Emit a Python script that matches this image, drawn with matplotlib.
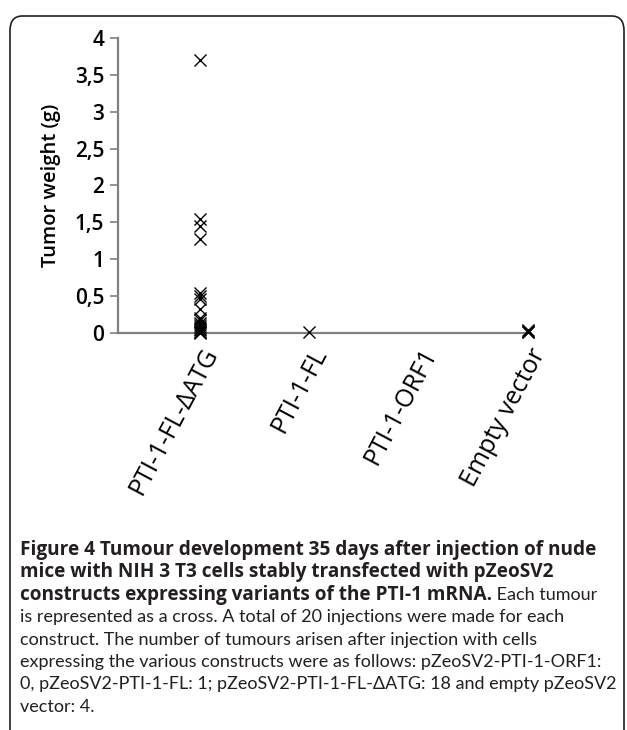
import numpy as np
import matplotlib.pyplot as plt
import matplotlib.transforms as mtransforms
from matplotlib.patches import FancyBboxPatch

# data (tumour weight in g, one value per tumour)
categories = ['PTI-1-FL-\u0394ATG', 'PTI-1-FL', 'PTI-1-ORF1', 'Empty vector']
w_datg = [3.7, 1.55, 1.45, 1.28, 0.54, 0.5, 0.46, 0.33, 0.2, 0.17,
          0.14, 0.11, 0.08, 0.06, 0.04, 0.02, 0.01, 0.0]
w_fl = [0.01]
w_orf1 = []
w_empty = [0.04, 0.03, 0.02, 0.01]
weights = [w_datg, w_fl, w_orf1, w_empty]
yticks = [0, 0.5, 1, 1.5, 2, 2.5, 3, 3.5, 4]
ytick_labels = ['0', '0,5', '1', '1,5', '2', '2,5', '3', '3,5', '4']

W, H = 627, 730
fig = plt.figure(figsize=(W / 100, H / 100), dpi=100)

# rounded frame around figure + caption (bottom runs off the image)
frame = FancyBboxPatch((10 / W, -20 / H), 614 / W, 734 / H,
                       boxstyle='round,pad=0,rounding_size=0.02',
                       transform=fig.transFigure, fill=False,
                       edgecolor='#231f20', linewidth=1.2)
fig.patches.append(frame)

ax = fig.add_axes([118 / W, 1 - 333 / H, (530 - 118) / W, (333 - 38) / H])
for i, vals in enumerate(weights):
    if len(vals) == 0:
        continue
    ax.scatter(np.full(len(vals), i + 1), vals, marker='x', s=75,
               color='black', linewidths=1.0, zorder=3, clip_on=False)

ax.set_xlim(0.25, 4.02)
ax.set_ylim(0, 4)
ax.set_yticks(yticks)
ax.set_yticklabels(ytick_labels)
ax.set_xticks(range(1, 5))
ax.set_xticklabels(categories, rotation=62, ha='right', va='center',
                   rotation_mode='anchor')
ax.tick_params(axis='y', direction='out', length=6, width=1.2,
               color='#808080', labelsize=15, pad=4)
ax.tick_params(axis='x', length=0, labelsize=18, pad=12)
shift = mtransforms.ScaledTranslation(12 / 100, 0, fig.dpi_scale_trans)
for lab in ax.get_xticklabels():
    lab.set_transform(lab.get_transform() + shift)
    lab.set_family('Open Sans')
    lab.set_color('black')
for lab in ax.get_yticklabels():
    lab.set_family('Open Sans')
    lab.set_weight('semibold')
    lab.set_color('black')
for s in ['top', 'right']:
    ax.spines[s].set_visible(False)
for s in ['left', 'bottom']:
    ax.spines[s].set_color('#808080')
    ax.spines[s].set_linewidth(1.6)
ax.set_ylabel('Tumor weight (g)', family='Open Sans', weight='semibold',
              fontsize=14.5, labelpad=10)

# caption
cap = dict(color='#231f20', va='baseline')
x0 = 20 / W
lines_bold = ['Figure 4 Tumour development 35 days after injection of nude',
              'mice with NIH 3 T3 cells stably transfected with pZeoSV2']
lines_norm = ['is represented as a cross. A total of 20 injections were made for each',
              'construct. The number of tumours arisen after injection with cells',
              'expressing the various constructs were as follows: pZeoSV2-PTI-1-ORF1:',
              '0, pZeoSV2-PTI-1-FL: 1; pZeoSV2-PTI-1-FL-\u0394ATG: 18 and empty pZeoSV2',
              'vector: 4.']
y0 = 555
step = 22.4
for k, t in enumerate(lines_bold):
    fig.text(x0, 1 - (y0 + k * step) / H, t, weight='bold', family='Open Sans',
             fontsize=13.7, **cap)
tb = fig.text(x0, 1 - (y0 + 2 * step) / H,
              'constructs expressing variants of the PTI-1 mRNA.',
              weight='bold', family='Open Sans', fontsize=13.7, **cap)
fig.canvas.draw()
bb = tb.get_window_extent()
fig.text(bb.x1 / W, 1 - (y0 + 2 * step) / H, ' Each tumour', family='Lato',
         fontsize=13.0, **cap)
for k, t in enumerate(lines_norm):
    fig.text(x0, 1 - (y0 + (k + 3) * step) / H, t, family='Lato',
             fontsize=13.0, **cap)

fig.savefig('out.png', dpi=100)
